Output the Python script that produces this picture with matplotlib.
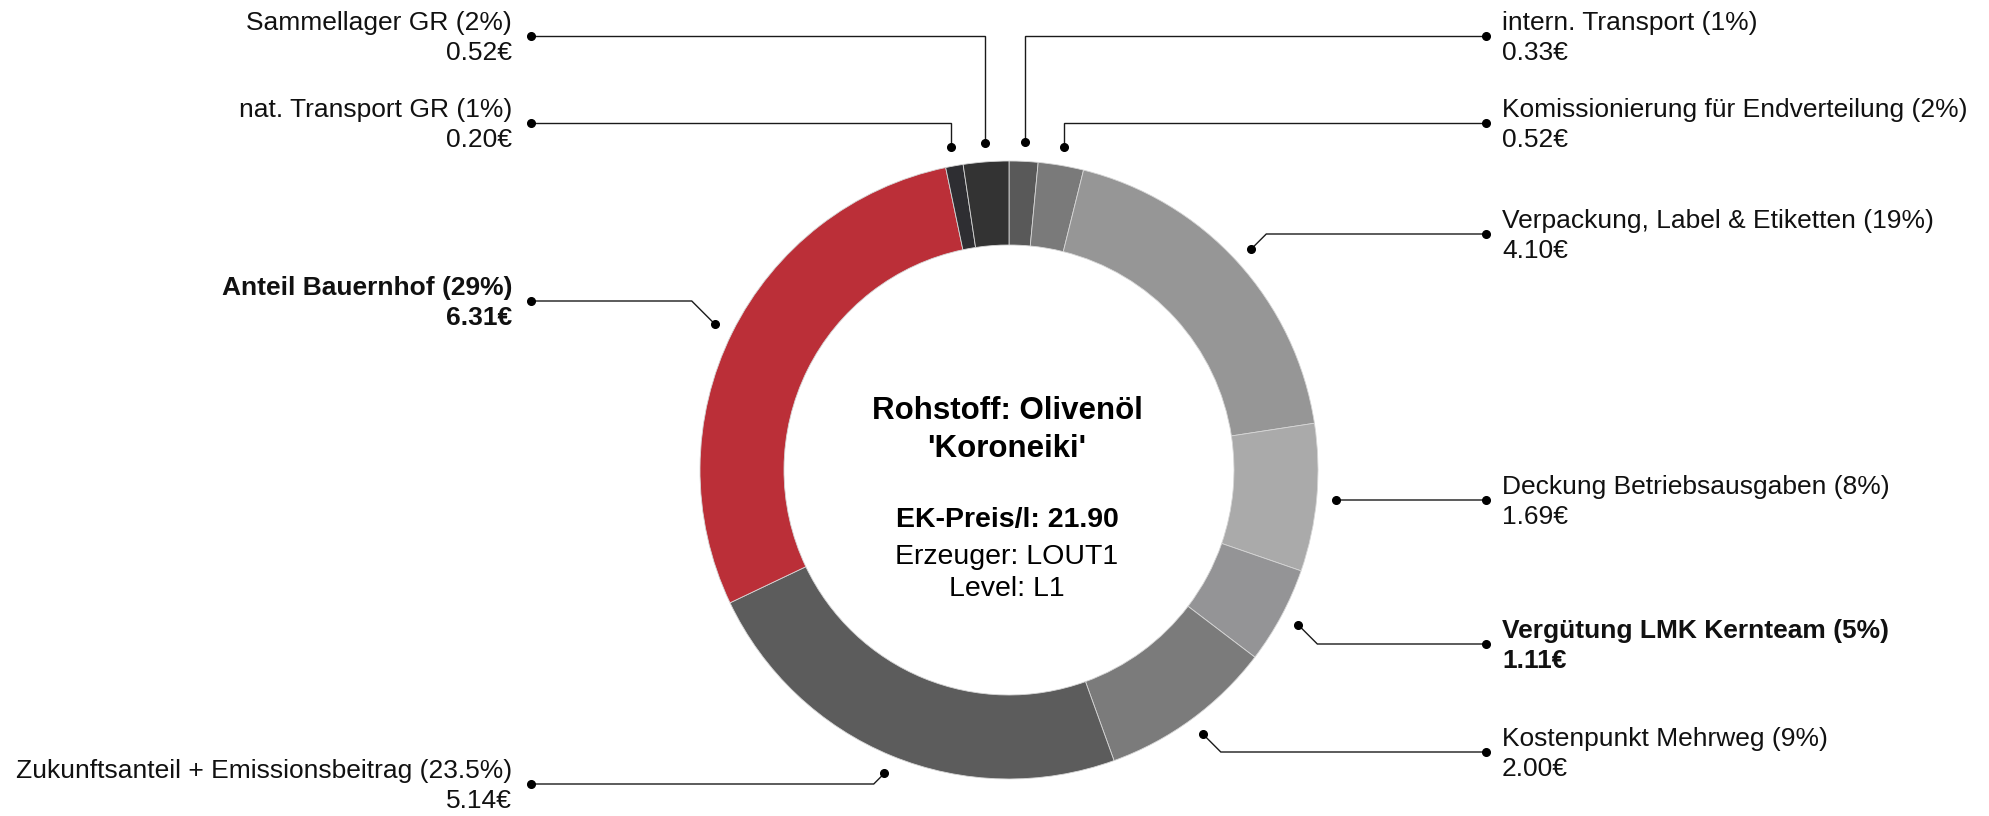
import numpy as np
import matplotlib.pyplot as plt

# ---------------- DATA ----------------

categories = [
    "intern. Transport",
    "Komissionierung für Endverteilung",
    "Verpackung, Label & Etiketten",
    "Deckung Betriebsausgaben",
    "Vergütung LMK Kernteam",
    "Kostenpunkt Mehrweg",
    "Zukunftsanteil + Emissionsbeitrag",
    "Anteil Bauernhof",
    "nat. Transport GR",
    "Sammellager GR",
]
euros = [0.33, 0.52, 4.10, 1.69, 1.11, 2.00, 5.14, 6.31, 0.20, 0.52]
percents = [1, 2, 19, 8, 5, 9, 23.5, 29, 1, 2]
highlight = ["Vergütung LMK Kernteam", "Anteil Bauernhof"]

colors = ["#595959", "#7a7a7a", "#969696", "#aaaaaa", "#949496",
          "#7b7b7b", "#5c5c5c", "#bb2f38", "#2e2e32", "#333333"]

title_lines = ["Rohstoff: Olivenöl", "'Koroneiki'"]
info_lines = ["EK-Preis/l: 21.90", "Erzeuger: LOUT1", "Level: L1"]

# label line heights in pixels from the top (layout only)
label_y_px = [36, 123, 234, 500, 644, 752, 784, 301, 123, 36]

# ---------------- FIGURE ----------------

W, H = 1990, 816
plt.rcParams["font.family"] = ["Liberation Sans", "DejaVu Sans"]

fig = plt.figure(figsize=(W / 100, H / 100), dpi=100)
ax = fig.add_axes([0, 0, 1, 1])

cx, cy = 1009, H - 470
R = 309
ring = 84

ax.pie(
    euros,
    colors=colors,
    startangle=90,
    counterclock=False,
    radius=R,
    center=(cx, cy),
    wedgeprops=dict(width=ring, edgecolor="#d6d6d6", linewidth=0.6),
)

ax.set_xlim(0, W)
ax.set_ylim(0, H)
ax.set_aspect("equal")
ax.axis("off")

# ---------------- LEADERS + LABELS ----------------

vals = np.array(euros)
cum = np.cumsum(vals) / vals.sum()
mids = cum - vals / vals.sum() / 2

r_dot = 328
x_right_dot, x_right_text = 1486, 1502
x_left_dot, x_left_text = 531, 512

for i, name in enumerate(categories):
    ang = np.deg2rad(90 - 360 * mids[i])
    dx = cx + r_dot * np.cos(ang)
    dy = cy + r_dot * np.sin(ang)
    ly = H - label_y_px[i]
    right = mids[i] < 0.5
    sign = 1 if right else -1

    if mids[i] < 0.05 or mids[i] > 0.95:
        ex = dx
    else:
        ex = dx + sign * abs(ly - dy)

    end_x = x_right_dot if right else x_left_dot
    ax.plot([dx, ex, end_x], [dy, ly, ly], color="#1a1a1a", lw=1.0,
            solid_joinstyle="miter")
    ax.plot([dx, end_x], [dy, ly], "o", color="#000000", ms=5.5,
            linestyle="none")

    weight = "bold" if name in highlight else "normal"
    tx = x_right_text if right else x_left_text
    ha = "left" if right else "right"
    ax.text(tx, ly + 6, f"{name} ({percents[i]:g}%)", ha=ha,
            va="baseline", fontsize=19, fontweight=weight, color="#111111")
    ax.text(tx, ly - 24, f"{euros[i]:.2f}€", ha=ha, va="baseline",
            fontsize=19, fontweight=weight, color="#111111")

# ---------------- CENTER TEXT ----------------

for line, base in zip(title_lines, [419, 457]):
    ax.text(cx - 2, H - base, line, ha="center", va="baseline",
            fontsize=22.5, fontweight="bold", color="#000000")

for j, (line, base) in enumerate(zip(info_lines, [527, 564, 596])):
    ax.text(cx - 2, H - base, line, ha="center", va="baseline",
            fontsize=20.5, fontweight="bold" if j == 0 else "normal",
            color="#000000")

fig.savefig("out.png", dpi=100, facecolor="white")
